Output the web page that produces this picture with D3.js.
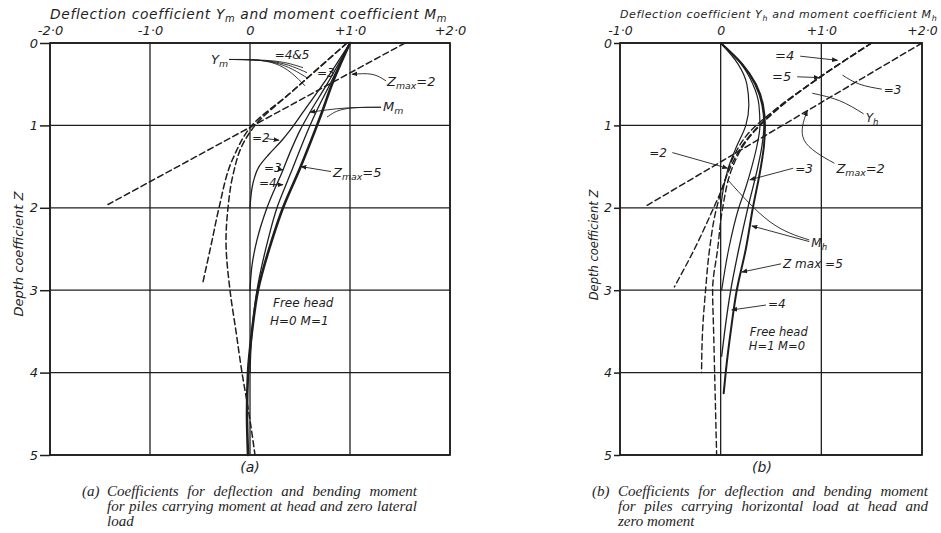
<!DOCTYPE html>
<html>
<head>
<meta charset="utf-8">
<script src="https://cdn.jsdelivr.net/npm/d3@7"></script>
<style>
  body { margin: 0; background: #fff; }
  svg { display: block; }
</style>
</head>
<body>
<div id="viz"></div>
<script>
const width = 941;
const height = 533;
const ink = '#1e1e1e';
const letterFont = '"DejaVu Sans", "Liberation Sans", sans-serif';
const captionFont = '"Liberation Serif", "DejaVu Serif", serif';

// Depth axis, shared by both panels
const depthTicks = [0, 1, 2, 3, 4, 5];
const depthLabels = ['0', '1', '2', '3', '4', '5'];

// Panel (a): moment at head, zero lateral load. Points are [Z, coefficient]
const xTicksA = [-2, -1, 0, 1, 2];
const xLabelsA = ['-2·0', '-1·0', '0', '+1·0', '+2·0'];
const ymA2 = [[0, 1.55], [1.96, -1.42]];
const ymA3 = [[0, 0.97], [0.3, 0.69], [0.6, 0.41], [1.0, 0.02], [1.4, -0.17], [2.0, -0.31], [2.4, -0.38], [2.9, -0.47]];
const ymA45 = [[0, 0.97], [0.3, 0.69], [0.6, 0.41], [1.0, 0.05], [1.2, -0.06], [1.6, -0.17], [2.0, -0.22], [2.4, -0.24], [3.0, -0.2], [3.5, -0.14], [4.0, -0.08], [4.5, -0.01], [5.0, 0.05]];
const mmA2 = [[0, 1.0], [0.5, 0.73], [0.84, 0.53], [1.06, 0.40], [1.18, 0.32], [1.35, 0.19], [1.5, 0.09], [1.7, 0.03], [2.0, 0]];
const mmA3 = [[0, 1.0], [0.5, 0.77], [0.84, 0.6], [1.06, 0.5], [1.3, 0.41], [1.54, 0.33], [2.0, 0.17], [2.39, 0.07], [2.7, 0.02], [3.0, 0]];
const mmA4 = [[0, 1.0], [0.5, 0.8], [0.84, 0.66], [1.0, 0.6], [1.54, 0.42], [1.72, 0.36], [2.0, 0.27], [2.39, 0.18], [3.0, 0.07], [3.5, 0.02], [4.0, 0]];
const mmA5 = [[0, 1.0], [0.5, 0.82], [0.84, 0.72], [1.0, 0.67], [1.52, 0.5], [2.0, 0.33], [2.39, 0.22], [3.0, 0.08], [3.5, 0.02], [4.0, -0.02], [4.5, -0.03], [5.0, -0.02]];

// Panel (b): horizontal load at head, zero moment
const xTicksB = [-1, 0, 1, 2];
const xLabelsB = ['-1·0', '0', '+1·0', '+2·0'];
const yhB2 = [[0, 2.0], [1.97, -0.73]];
const yhB3 = [[0, 1.5], [0.42, 0.98], [0.8, 0.55], [1.09, 0.28], [1.4, 0.12], [1.75, 0.02], [2.0, -0.07], [2.5, -0.26], [2.96, -0.46]];
const yhB4 = [[0, 1.5], [0.42, 0.98], [0.8, 0.56], [1.2, 0.24], [1.5, 0.1], [2.0, -0.04], [2.5, -0.11], [3.0, -0.15], [3.5, -0.18], [4.0, -0.19]];
const yhB5 = [[0, 1.5], [0.42, 0.98], [0.8, 0.57], [1.2, 0.25], [1.5, 0.12], [2.0, 0.02], [2.5, -0.03], [3.0, -0.08], [3.5, -0.07], [4.0, -0.06], [4.5, -0.05], [5.0, -0.04]];
const mhB2 = [[0, 0], [0.25, 0.17], [0.5, 0.26], [0.75, 0.28], [1.0, 0.25], [1.25, 0.16], [1.5, 0.08], [1.75, 0.03], [2.0, 0]];
const mhB3 = [[0, 0], [0.25, 0.2], [0.5, 0.32], [0.75, 0.38], [1.0, 0.39], [1.25, 0.36], [1.5, 0.31], [1.75, 0.25], [2.0, 0.18], [2.5, 0.08], [3.0, 0.01]];
const mhB4 = [[0, 0], [0.25, 0.21], [0.5, 0.34], [0.75, 0.41], [1.0, 0.43], [1.25, 0.41], [1.5, 0.37], [2.0, 0.27], [2.5, 0.18], [3.0, 0.1], [3.5, 0.04], [3.8, 0.01]];
const mhB5 = [[0, 0], [0.25, 0.21], [0.5, 0.35], [0.75, 0.42], [1.0, 0.44], [1.25, 0.43], [1.5, 0.4], [2.0, 0.32], [2.5, 0.25], [3.0, 0.16], [3.5, 0.1], [4.0, 0.05], [4.25, 0.03]];

// Captions
const captionA = ['Coefficients for deflection and bending moment', 'for piles carrying moment at head and zero lateral', 'load'];
const captionB = ['Coefficients for deflection and bending moment', 'for piles carrying horizontal load at head and', 'zero moment'];


const svg = d3.select('#viz')
  .append('svg')
    .attr('viewBox', `0 0 ${width} ${height}`)
    .attr('width', width)
    .attr('height', height)
    .style('background', '#fff');

svg.append('defs')
  .append('marker')
    .attr('id', 'arrow')
    .attr('viewBox', '0 0 10 10')
    .attr('refX', 9)
    .attr('refY', 5)
    .attr('markerWidth', 6)
    .attr('markerHeight', 6)
    .attr('markerUnits', 'userSpaceOnUse')
    .attr('orient', 'auto')
  .append('path')
    .attr('d', 'M0,1 L10,5 L0,9 z')
    .attr('fill', ink);

// Text with subscripts: parts = [[string, isSub], ...]
const rich = (t, parts, shift) => {
  let down = false;
  parts.forEach(([s, sub]) => {
    const ts = t.append('tspan').text(s);
    if (sub) {
      ts.attr('font-size', '72%');
      if (!down) { ts.attr('dy', shift); down = true; }
    } else if (down) {
      ts.attr('dy', -shift);
      down = false;
    }
  });
  return t;
};

// Spread letters so the text spans the given width (font size stays)
const spreadLetters = (t, w) => {
  const len = t.node().getComputedTextLength();
  const n = t.text().length;
  t.attr('letter-spacing', ((w - len) / n).toFixed(2));
  return t;
};

// Justify a caption line by widening its word gaps
const justify = (t, w) => {
  const len = t.node().getComputedTextLength();
  const gaps = (t.text().match(/ /g) || []).length;
  if (gaps) t.attr('word-spacing', ((w - len) / gaps).toFixed(2));
  return t;
};

const y = d3.scaleLinear().domain([0, 5]).range([43, 455]);

const drawPanel = (p) => {
  const x = d3.scaleLinear().domain(p.domain).range(p.range);
  const g = svg.append('g').attr('class', `panel-${p.id}`);

  // Grid
  g.append('g')
      .attr('stroke', ink)
      .attr('stroke-width', 1.3)
    .selectAll('line')
    .data(p.xTicks)
    .join('line')
      .attr('x1', d => x(d))
      .attr('x2', d => x(d))
      .attr('y1', y(0))
      .attr('y2', y(5));
  g.append('g')
      .attr('stroke', ink)
      .attr('stroke-width', 1.3)
    .selectAll('line')
    .data(depthTicks)
    .join('line')
      .attr('x1', x(p.domain[0]))
      .attr('x2', x(p.domain[1]))
      .attr('y1', d => y(d))
      .attr('y2', d => y(d));
  g.append('rect')
      .attr('x', x(p.domain[0]))
      .attr('y', y(0))
      .attr('width', x(p.domain[1]) - x(p.domain[0]))
      .attr('height', y(5) - y(0))
      .attr('fill', 'none')
      .attr('stroke', ink)
      .attr('stroke-width', 1.7);

  // Axes
  const xAxis = d3.axisTop(x)
    .tickValues(p.xTicks)
    .tickFormat((d, i) => p.xLabels[i])
    .tickSize(0)
    .tickPadding(8);
  g.append('g')
      .attr('transform', `translate(0, ${y(0)})`)
      .call(xAxis)
      .call(a => a.select('.domain').remove())
      .call(a => a.selectAll('text')
        .attr('fill', ink)
        .style('font-family', letterFont)
        .style('font-style', 'italic')
        .style('font-size', p.tickFont + 'px'));

  const yAxis = d3.axisLeft(y)
    .tickValues(depthTicks)
    .tickFormat((d, i) => depthLabels[i])
    .tickSize(p.yTickSize)
    .tickPadding(2);
  g.append('g')
      .attr('transform', `translate(${x(p.domain[0])}, 0)`)
      .call(yAxis)
      .call(a => a.select('.domain').remove())
      .call(a => a.selectAll('line').attr('stroke', ink).attr('stroke-width', 1.5))
      .call(a => a.selectAll('text')
        .attr('fill', ink)
        .style('font-family', letterFont)
        .style('font-style', 'italic')
        .style('font-size', p.tickFont + 'px'));

  // Titles
  const title = g.append('text')
      .attr('x', p.title.x)
      .attr('y', p.title.y)
      .attr('fill', ink)
      .attr('font-family', letterFont)
      .attr('font-style', 'italic')
      .attr('font-size', p.title.size);
  rich(title, p.title.parts, 2.5);
  spreadLetters(title, p.title.w);

  g.append('text')
      .attr('transform', `translate(${p.depthTitle.x}, ${p.depthTitle.y}) rotate(-90)`)
      .attr('text-anchor', 'middle')
      .attr('fill', ink)
      .attr('font-family', letterFont)
      .attr('font-style', 'italic')
      .attr('font-size', p.depthTitle.size)
      .text('Depth coefficient Z');

  // Curves
  const line = d3.line()
    .x(d => x(d[1]))
    .y(d => y(d[0]))
    .curve(d3.curveMonotoneY);
  g.append('g')
      .attr('fill', 'none')
      .attr('stroke', ink)
      .attr('stroke-linecap', 'round')
    .selectAll('path')
    .data(p.curves)
    .join('path')
      .attr('d', d => line(d.data))
      .attr('stroke-width', d => d.w)
      .attr('stroke-dasharray', d => d.dashed ? '6,3.5' : null);

  // Leader lines
  const leader = d3.line()
    .x(d => x(d[0]))
    .y(d => y(d[1]))
    .curve(d3.curveNatural);
  g.append('g')
      .attr('fill', 'none')
      .attr('stroke', ink)
      .attr('stroke-width', 0.9)
    .selectAll('path')
    .data(p.leaders)
    .join('path')
      .attr('d', d => leader(d.pts))
      .attr('marker-end', d => d.arrow ? 'url(#arrow)' : null);

  // Notes
  p.notes.forEach(n => {
    const t = g.append('text')
        .attr('x', x(n.at[0]))
        .attr('y', y(n.at[1]))
        .attr('text-anchor', n.anchor || 'start')
        .attr('fill', ink)
        .attr('font-family', letterFont)
        .attr('font-style', 'italic')
        .attr('font-size', n.size);
    rich(t, n.parts, 3);
  });

  // Panel letter and caption
  g.append('text')
      .attr('x', p.letter.x)
      .attr('y', 472)
      .attr('text-anchor', 'middle')
      .attr('fill', ink)
      .attr('font-family', letterFont)
      .attr('font-style', 'italic')
      .attr('font-size', 14)
      .text(p.letter.text);

  g.append('text')
      .attr('x', p.caption.x0)
      .attr('y', 496)
      .attr('fill', ink)
      .attr('font-family', captionFont)
      .attr('font-style', 'italic')
      .attr('font-size', 15)
      .text(p.letter.text);

  const capLines = g.append('g')
      .attr('fill', ink)
      .attr('font-family', captionFont)
      .attr('font-style', 'italic')
      .attr('font-size', 15)
    .selectAll('text')
    .data(p.caption.lines)
    .join('text')
      .attr('x', p.caption.x1)
      .attr('y', (d, i) => 496 + i * 15)
      .text(d => d);
  capLines.filter((d, i) => i < 2).each(function () { justify(d3.select(this), p.caption.w); });
};

drawPanel({
  id: 'a',
  domain: [-2, 2],
  range: [50, 450],
  xTicks: xTicksA,
  xLabels: xLabelsA,
  tickFont: 13,
  yTickSize: 10,
  title: { x: 50, y: 19, w: 398, size: 13.8, parts: [['Deflection coefficient Y'], ['m', true], [' and moment coefficient M'], ['m', true]] },
  depthTitle: { x: 23, y: 254, size: 13 },
  letter: { x: 250, text: '(a)' },
  caption: { x0: 82, x1: 107, w: 310, lines: captionA },
  curves: [
    { data: ymA2, dashed: true, w: 1.5 },
    { data: ymA3, dashed: true, w: 1.5 },
    { data: ymA45, dashed: true, w: 1.5 },
    { data: mmA2, w: 1.3 },
    { data: mmA3, w: 1.3 },
    { data: mmA4, w: 1.3 },
    { data: mmA5, w: 2.6 }
  ],
  leaders: [
    { pts: [[-0.21, 0.2], [0.25, 0.22], [0.53, 0.3]] },
    { pts: [[-0.21, 0.2], [0.25, 0.23], [0.57, 0.36]] },
    { pts: [[-0.21, 0.2], [0.25, 0.24], [0.58, 0.43]] },
    { pts: [[-0.21, 0.2], [0.25, 0.25], [0.55, 0.52]] },
    { pts: [[1.36, 0.46], [1.22, 0.38], [1.02, 0.38]], arrow: true },
    { pts: [[1.31, 0.78], [0.95, 0.79], [0.6, 0.84]], arrow: true },
    { pts: [[1.31, 0.78], [0.95, 0.8], [0.77, 0.9]] },
    { pts: [[0.16, 1.16], [0.29, 1.18]], arrow: true },
    { pts: [[0.28, 1.53], [0.33, 1.54]], arrow: true },
    { pts: [[0.23, 1.72], [0.33, 1.72]], arrow: true },
    { pts: [[0.81, 1.56], [0.51, 1.5]], arrow: true }
  ],
  notes: [
    { at: [-0.22, 0.26], anchor: 'end', size: 13, parts: [['Y'], ['m', true]] },
    { at: [0.42, 0.19], anchor: 'middle', size: 12, parts: [['=4&5']] },
    { at: [0.67, 0.41], size: 12, parts: [['=3']] },
    { at: [1.37, 0.52], size: 13, parts: [['Z'], ['max', true], ['=2']] },
    { at: [1.33, 0.83], size: 13, parts: [['M'], ['m', true]] },
    { at: [0.02, 1.2], size: 12, parts: [['=2']] },
    { at: [0.14, 1.57], size: 12, parts: [['=3']] },
    { at: [0.09, 1.75], size: 12, parts: [['=4']] },
    { at: [0.83, 1.63], size: 13, parts: [['Z'], ['max', true], ['=5']] },
    { at: [0.23, 3.2], size: 12, parts: [['Free head']] },
    { at: [0.2, 3.42], size: 12, parts: [['H=0   M=1']] }
  ]
});

drawPanel({
  id: 'b',
  domain: [-1, 2],
  range: [620, 922],
  xTicks: xTicksB,
  xLabels: xLabelsB,
  tickFont: 12.5,
  yTickSize: 6,
  title: { x: 620, y: 18, w: 318, size: 11, parts: [['Deflection coefficient Y'], ['h', true], [' and moment coefficient M'], ['h', true]] },
  depthTitle: { x: 598, y: 245, size: 11.5 },
  letter: { x: 762, text: '(b)' },
  caption: { x0: 592, x1: 618, w: 310, lines: captionB },
  curves: [
    { data: yhB2, dashed: true, w: 1.5 },
    { data: yhB3, dashed: true, w: 1.4 },
    { data: yhB4, dashed: true, w: 1.4 },
    { data: yhB5, dashed: true, w: 1.4 },
    { data: mhB2, w: 1.2 },
    { data: mhB3, w: 1.2 },
    { data: mhB4, w: 1.3 },
    { data: mhB5, w: 2.0 }
  ],
  leaders: [
    { pts: [[0.79, 0.16], [1.16, 0.21]], arrow: true },
    { pts: [[0.76, 0.41], [0.98, 0.42]], arrow: true },
    { pts: [[1.6, 0.56], [1.38, 0.5], [1.21, 0.39]] },
    { pts: [[1.42, 0.86], [1.18, 0.7], [0.91, 0.61]] },
    { pts: [[1.13, 1.46], [0.83, 1.18], [0.86, 0.82]], arrow: true },
    { pts: [[-0.48, 1.33], [0.07, 1.52]], arrow: true },
    { pts: [[0.72, 1.52], [0.29, 1.66]], arrow: true },
    { pts: [[0.88, 2.39], [0.49, 2.17], [0.07, 1.66]] },
    { pts: [[0.88, 2.41], [0.31, 2.22]], arrow: true },
    { pts: [[0.6, 2.68], [0.21, 2.78]], arrow: true },
    { pts: [[0.45, 3.18], [0.11, 3.24]], arrow: true }
  ],
  notes: [
    { at: [0.54, 0.21], size: 13, parts: [['=4']] },
    { at: [0.51, 0.46], size: 13, parts: [['=5']] },
    { at: [1.62, 0.62], size: 12, parts: [['=3']] },
    { at: [1.44, 0.96], size: 12, parts: [['Y'], ['h', true]] },
    { at: [1.15, 1.58], size: 13, parts: [['Z'], ['max', true], ['=2']] },
    { at: [-0.71, 1.38], size: 12, parts: [['=2']] },
    { at: [0.74, 1.58], size: 12, parts: [['=3']] },
    { at: [0.9, 2.48], size: 12, parts: [['M'], ['h', true]] },
    { at: [0.62, 2.73], size: 12, parts: [['Z max =5']] },
    { at: [0.47, 3.22], size: 12, parts: [['=4']] },
    { at: [0.29, 3.55], size: 11.5, parts: [['Free head']] },
    { at: [0.28, 3.73], size: 11.5, parts: [['H=1  M=0']] }
  ]
});
</script>
</body>
</html>
